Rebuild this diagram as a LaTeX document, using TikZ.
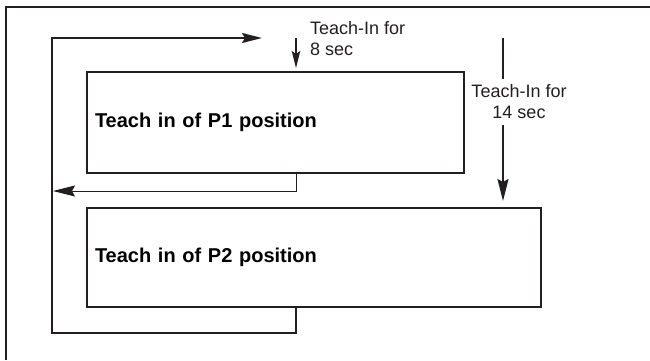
\documentclass[tikz,border=0pt]{standalone}
\usepackage{fontspec}
\setmainfont{Liberation Sans}
\usetikzlibrary{arrows.meta}
\definecolor{ink}{HTML}{231F20}
\tikzset{
  box/.style={draw=ink, line width=2pt, anchor=north west, inner xsep=8pt,
    align=left, font=\fontsize{20}{24}\selectfont\bfseries},
  lbl/.style={font=\fontsize{18}{21}\selectfont, inner sep=0pt, text=ink},
  heavy/.style={draw=ink, line width=2pt},
  light/.style={draw=ink, line width=1pt},
  tip/.style={-{Stealth[length=#1, width=0.5*#1, inset=3pt]}}
}
\begin{document}
\begin{tikzpicture}[x=1pt, y=-1pt]
\useasboundingbox (0,0) rectangle (650,360);
\draw[heavy] (6,360) -- (6,7) -- (650,7);
\node[box, minimum width=377pt, minimum height=101pt, text width=361pt] (pone) at (86,71) {Teach in of P1 position};
\node[box, minimum width=454pt, minimum height=99pt, text width=438pt, inner xsep=6pt] (ptwo) at (86,207) {Teach in of P2 position};
\coordinate (xin) at (296,38);
\coordinate (lb) at (52,333);
\coordinate (lt) at (52,38);
\coordinate (le) at (262,38);
\coordinate (ret) at (53,191);
\coordinate (ts) at (503,38);
\node[lbl, anchor=west, align=left] (eight) at (310,38.5) {Teach-In for\\8 sec};
\node[lbl, align=center, inner ysep=6pt] (fourteen) at (519,102) {Teach-In for\\14 sec};
\draw[heavy, tip=20pt] (ptwo.south -| xin) -- (xin |- lb) -- (lb) -- (lt) -- (le);
\draw[light, tip=22pt] (pone.south -| xin) |- (ret);
\draw[draw=ink, line width=1.4pt, tip=17pt, shorten >=3pt] (xin) -- (pone.north -| xin);
\draw[heavy] (ts) -- (fourteen.north -| ts);
\draw[heavy, tip=22pt, shorten >=6pt] (fourteen.south -| ts) -- (ptwo.north -| ts);
\end{tikzpicture}
\end{document}
